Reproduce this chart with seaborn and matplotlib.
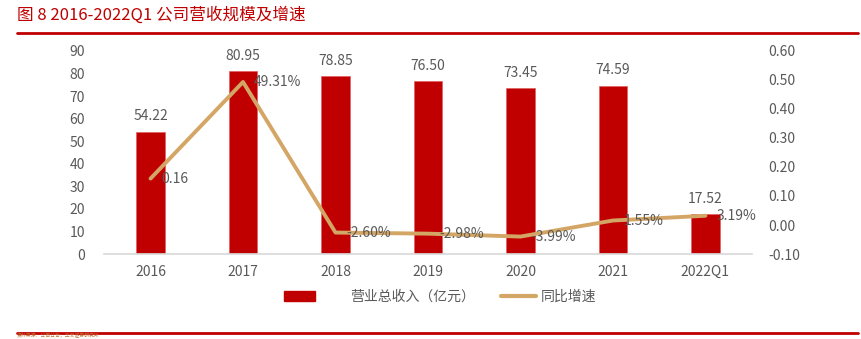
import matplotlib
matplotlib.use("Agg")
import matplotlib.pyplot as plt
import seaborn as sns
import pandas as pd
from matplotlib.patches import Patch
from matplotlib.lines import Line2D

sns.set_theme(style="white")
plt.rcParams['font.family'] = ['Noto Sans CJK SC', 'DejaVu Sans']

years = ["2016", "2017", "2018", "2019", "2020", "2021", "2022Q1"]
revenue = [54.22, 80.95, 78.85, 76.50, 73.45, 74.59, 17.52]
growth = [0.16, 0.4931, -0.0260, -0.0298, -0.0399, 0.0155, 0.0319]
growth_labels = ["0.16", "49.31%", "-2.60%", "-2.98%", "-3.99%", "1.55%", "3.19%"]

RED = "#C00000"
TAN = "#D4A665"
GREY = "#595959"

df = pd.DataFrame({"year": years, "revenue": revenue, "growth": growth})

fig = plt.figure(figsize=(8.62, 3.39), dpi=100)
ax = fig.add_axes([0.121, 0.2507, 0.751, 0.599])
sns.barplot(data=df, x="year", y="revenue", color=RED, width=0.31, ax=ax,
            saturation=1, edgecolor="#E06060", linewidth=0.5)
ax.set_ylim(0, 90)
ax.set_yticks(range(0, 91, 10))
ax.set_xlabel("")
ax.set_ylabel("")
for s in ["top", "right", "left"]:
    ax.spines[s].set_visible(False)
ax.spines["bottom"].set_color("#D9D9D9")
ax.tick_params(axis="both", colors=GREY, labelsize=10, length=0)
ax.tick_params(axis="y", pad=14)
ax.tick_params(axis="x", pad=8)

for i, v in enumerate(revenue):
    ax.text(i, v + 3.8, f"{v:.2f}", ha="center", va="bottom", color=GREY, fontsize=10)

ax2 = ax.twinx()
sns.lineplot(x=list(range(len(years))), y=growth, ax=ax2, color=TAN, linewidth=2.8)
ax2.set_ylim(-0.10, 0.60)
ax2.set_yticks([-0.10, 0, 0.10, 0.20, 0.30, 0.40, 0.50, 0.60])
ax2.set_yticklabels(["-0.10", "0.00", "0.10", "0.20", "0.30", "0.40", "0.50", "0.60"])
ax2.tick_params(axis="y", colors=GREY, labelsize=10, length=0, pad=12)
for s in ["top", "right", "left", "bottom"]:
    ax2.spines[s].set_visible(False)
ax.set_xlim(-0.5, 6.5)

for i, (v, lab) in enumerate(zip(growth, growth_labels)):
    ax2.text(i + 0.12, v, lab, ha="left", va="center", color=GREY, fontsize=10)

fig.legend([Patch(facecolor=RED, edgecolor=RED)], ["营业总收入（亿元）"],
           loc="center left", bbox_to_anchor=(0.330, 0.124), frameon=False,
           fontsize=10, labelcolor=GREY, handlelength=2.2, handletextpad=2.5,
           borderpad=0, borderaxespad=0)
fig.legend([Line2D([0], [0], color=TAN, linewidth=3)], ["同比增速"],
           loc="center left", bbox_to_anchor=(0.581, 0.124), frameon=False,
           fontsize=10, labelcolor=GREY, handlelength=2.5, handletextpad=0.4,
           borderpad=0, borderaxespad=0)

fig.text(0.02, 0.955, "图 8 2016-2022Q1 公司营收规模及增速", color=RED,
         fontsize=12, ha="left", va="center")
fig.add_artist(Line2D([0.02, 0.995], [0.902, 0.902], color=RED, linewidth=2,
                      transform=fig.transFigure))
fig.add_artist(Line2D([0.02, 0.995], [0.018, 0.018], color=RED, linewidth=2,
                      transform=fig.transFigure))
fig.text(0.02, 0.001, "资料来源：公司公告，华安证券研究所", color="#C07030",
         fontsize=3.5, ha="left", va="bottom")

fig.savefig("out.png", dpi=100)
